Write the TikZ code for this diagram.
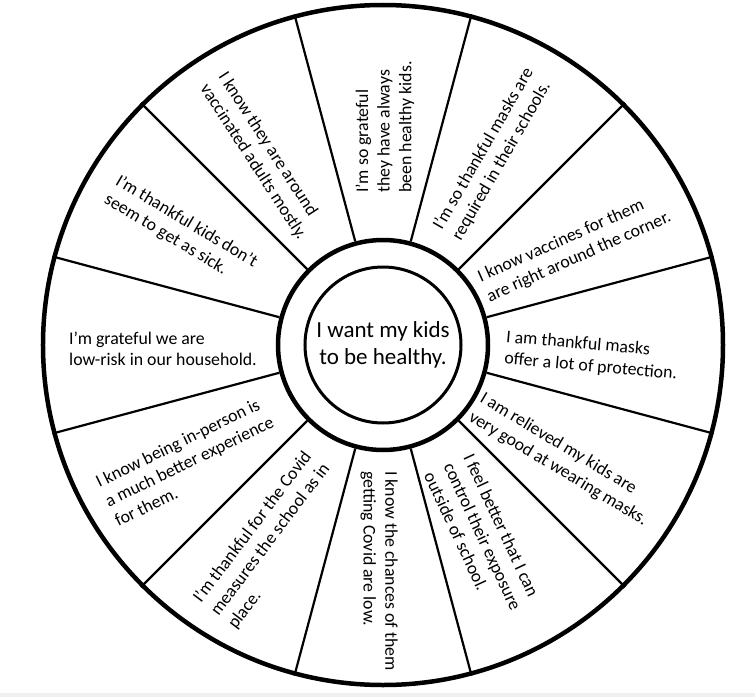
\documentclass[tikz,border=0pt]{standalone}
\usepackage{fontspec}
\setmainfont{Carlito}
\usepackage{tikz}
\usetikzlibrary{positioning, calc}

\begin{document}
\begin{tikzpicture}[x=1pt, y=1pt, wheel/.style={draw, circle, inner sep=0pt}, reason/.style={align=left, inner sep=0pt, font=\fontsize{17.8}{21.7}\selectfont}]
    \useasboundingbox (-383,-352) rectangle (372,345);
    \fill[black!6] (-383,-352) rectangle (372,-348);
    \node (rim) [wheel, minimum size=680pt, line width=4.5pt] at (0,0) {};
    \node (ring) [wheel, minimum size=210pt, line width=4.5pt] at (0,0) {};
    \node (hub) [wheel, minimum size=156pt, line width=3pt, align=center, font=\fontsize{23}{27}\selectfont] at (0,0) {I want my kids \\ to be healthy.};

    \node (protection) [reason, rotate=-5] at (-3:209) {I am thankful masks \\ offer a lot of protection.};
    \node (vaccines) [reason, rotate=24] at (27:215) {I know vaccines for them \\ are right around the corner.};
    \node (masks_school) [reason, rotate=60] at (60:220) {I’m so thankful masks are \\ required in their schools.};
    \node (healthy) [reason, rotate=90] at (89.5:218) {I’m so grateful \\ they have always \\ been healthy kids.};
    \node (vaccinated) [reason, rotate=-57] at (122.6:224) {I know they are around \\ vaccinated adults mostly.};
    \node (not_sick) [reason, rotate=-31] at (150.6:232) {I’m thankful kids don’t \\ seem to get as sick.};
    \node (low_risk) [reason] at (181:220) {I’m grateful we are \\ low-risk in our household.};
    \node (in_person) [reason, rotate=26] at (211:226) {I know being in-person is \\ a much better experience \\ for them.};
    \node (measures) [reason, rotate=53] at (240:225) {I’m thankful for the Covid \\ measures the school as in \\ place.};
    \node (chances) [reason, rotate=-90] at (269:226) {I know the chances of them \\ getting Covid are low.};
    \node (exposure) [reason, rotate=-65] at (297.5:216) {I feel better that I can \\ control their exposure \\ outside of school.};
    \node (wearing) [reason, rotate=-31] at (327.6:214) {I am relieved my kids are \\ very good at wearing masks.};

    % Spokes
    \draw[line width=2.2pt] (ring.15) -- (rim.15);
    \draw[line width=2.2pt] (ring.45) -- (rim.45);
    \draw[line width=2.2pt] (ring.75) -- (rim.75);
    \draw[line width=2.2pt] (ring.105) -- (rim.105);
    \draw[line width=2.2pt] (ring.135) -- (rim.135);
    \draw[line width=2.2pt] (ring.165) -- (rim.165);
    \draw[line width=2.2pt] (ring.195) -- (rim.195);
    \draw[line width=2.2pt] (ring.225) -- (rim.225);
    \draw[line width=2.2pt] (ring.255) -- (rim.255);
    \draw[line width=2.2pt] (ring.285) -- (rim.285);
    \draw[line width=2.2pt] (ring.315) -- (rim.315);
    \draw[line width=2.2pt] (ring.345) -- (rim.345);
\end{tikzpicture}
\end{document}
